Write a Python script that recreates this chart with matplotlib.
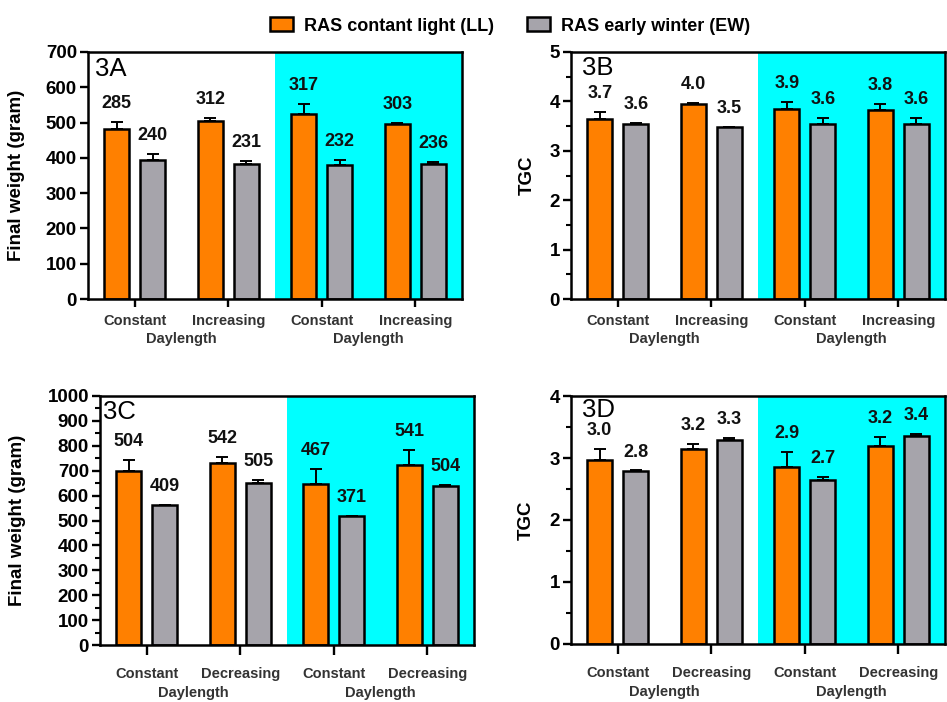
import numpy as np
import matplotlib.pyplot as plt
from matplotlib.patches import Patch
from matplotlib.ticker import MultipleLocator

plt.rcParams['font.family'] = ['Liberation Sans', 'DejaVu Sans']

ORANGE = "#FF8000"
GREY = "#A6A4AB"
CYAN = "#00FFFF"

# 3A - final weight, constant vs increasing daylength
a_ll = [483, 505, 524, 497]
a_ll_err = [19, 9, 28, 3]
a_ew = [395, 382, 379, 384]
a_ew_err = [15, 9, 16, 4]
a_ll_lab = ["285", "312", "317", "303"]
a_ew_lab = ["240", "231", "232", "236"]

# 3B - TGC, constant vs increasing daylength
b_ll = [3.65, 3.94, 3.85, 3.82]
b_ll_err = [0.14, 0.02, 0.14, 0.12]
b_ew = [3.55, 3.48, 3.55, 3.55]
b_ew_err = [0.01, 0.01, 0.12, 0.12]
b_ll_lab = ["3.7", "4.0", "3.9", "3.8"]
b_ew_lab = ["3.6", "3.5", "3.6", "3.6"]

# 3C - final weight, constant vs decreasing daylength
c_ll = [698, 731, 646, 722]
c_ll_err = [44, 24, 61, 63]
c_ew = [561, 651, 517, 640]
c_ew_err = [3, 13, 3, 4]
c_ll_lab = ["504", "542", "467", "541"]
c_ew_lab = ["409", "505", "371", "504"]

# 3D - TGC, constant vs decreasing daylength
d_ll = [2.96, 3.14, 2.86, 3.19]
d_ll_err = [0.19, 0.08, 0.24, 0.15]
d_ew = [2.79, 3.29, 2.65, 3.36]
d_ew_err = [0.01, 0.03, 0.05, 0.03]
d_ll_lab = ["3.0", "3.2", "2.9", "3.2"]
d_ew_lab = ["2.8", "3.3", "2.7", "3.4"]

cats_inc = ["Constant", "Increasing", "Constant", "Increasing"]
cats_dec = ["Constant", "Decreasing", "Constant", "Decreasing"]


def draw_panel(ax, ll, ll_err, ew, ew_err, ll_lab, ew_lab, cats, ymax, major, minor,
               ylabel, ylab_x, tag, tag_xy, tick_len, tick_pad, day_off):
    x = np.arange(len(cats))
    off = 0.193
    w = 0.27
    ax.axvspan(1.5, 3.5, color=CYAN, zorder=0, lw=0)
    for xs, vals, errs, labs, col in [(x - off, ll, ll_err, ll_lab, ORANGE),
                                      (x + off, ew, ew_err, ew_lab, GREY)]:
        ax.bar(xs, vals, w, color=col, edgecolor="black", linewidth=1.8, zorder=3)
        ax.errorbar(xs, vals, yerr=[np.zeros(len(vals)), errs], fmt="none",
                    ecolor="black", elinewidth=1.4, capsize=4, capthick=1.4, zorder=2)
        for xi, v, e, lab in zip(xs, vals, errs, labs):
            ax.annotate(lab, (xi, v + e), xytext=(0, 10), textcoords="offset points",
                        ha="center", va="baseline", fontsize=13, fontweight="bold",
                        color="#111111", zorder=5)
    ax.set_xlim(-0.5, 3.5)
    ax.set_ylim(0, ymax)
    ax.yaxis.set_major_locator(MultipleLocator(major))
    if minor:
        ax.yaxis.set_minor_locator(MultipleLocator(minor))
    ax.set_xticks(x)
    ax.set_xticklabels(cats, fontsize=10.5, fontweight="bold", color="#333333")
    ax.tick_params(axis="x", length=tick_len, width=1.7, pad=tick_pad)
    ax.tick_params(axis="y", which="major", length=6, width=1.7, pad=2, labelsize=13.5)
    ax.tick_params(axis="y", which="minor", length=3.5, width=1.5)
    for lab in ax.get_yticklabels():
        lab.set_fontweight("bold")
    for sp in ax.spines.values():
        sp.set_linewidth(1.8)
        sp.set_zorder(6)
    ax.set_ylabel(ylabel, fontsize=13.5, fontweight="bold", va="center")
    ax.yaxis.set_label_coords(ylab_x, 0.5)
    ax.text(tag_xy[0], tag_xy[1], tag, transform=ax.transAxes, fontsize=18.5,
            va="center", ha="left", zorder=6)
    for xc in [0.5, 2.5]:
        ax.annotate("Daylength", xy=(xc, 0), xycoords=("data", "axes fraction"),
                    xytext=(0, -day_off), textcoords="offset pixels", ha="center",
                    va="center", fontsize=10.5, fontweight="bold", color="#333333")


fig = plt.figure(figsize=(9.47, 7.02), dpi=100)
W, H = 947, 702


def add_axes(left, top, right, bottom):
    return fig.add_axes([left / W, 1 - bottom / H, (right - left) / W, (bottom - top) / H])


ax_a = add_axes(88, 52, 462, 299)
ax_b = add_axes(571, 52, 945, 299)
ax_c = add_axes(100, 396, 474, 645)
ax_d = add_axes(571, 396, 945, 644)

draw_panel(ax_a, a_ll, a_ll_err, a_ew, a_ew_err, a_ll_lab, a_ew_lab, cats_inc,
           700, 100, None, "Final weight (gram)", -0.19, "3A", (0.02, 0.93), 6, 5, 40)
draw_panel(ax_b, b_ll, b_ll_err, b_ew, b_ew_err, b_ll_lab, b_ew_lab, cats_inc,
           5, 1, 0.5, "TGC", -0.118, "3B", (0.03, 0.935), 6, 5, 40)
draw_panel(ax_c, c_ll, c_ll_err, c_ew, c_ew_err, c_ll_lab, c_ew_lab, cats_dec,
           1000, 100, 50, "Final weight (gram)", -0.22, "3C", (0.008, 0.936), 7, 9, 48)
draw_panel(ax_d, d_ll, d_ll_err, d_ew, d_ew_err, d_ll_lab, d_ew_lab, cats_dec,
           4, 1, 0.5, "TGC", -0.12, "3D", (0.03, 0.944), 7, 9, 48)

handles = [Patch(facecolor=ORANGE, edgecolor="black", linewidth=1.8),
           Patch(facecolor=GREY, edgecolor="black", linewidth=1.8)]
fig.legend(handles, ["RAS contant light (LL)", "RAS early winter (EW)"],
           loc="center", bbox_to_anchor=(510 / W, 1 - 26 / H), ncol=2, frameon=False,
           prop={"size": 13, "weight": "bold"}, handlelength=1.3, handleheight=0.8,
           columnspacing=1.8, handletextpad=0.6)

fig.savefig("out.png", dpi=100)
